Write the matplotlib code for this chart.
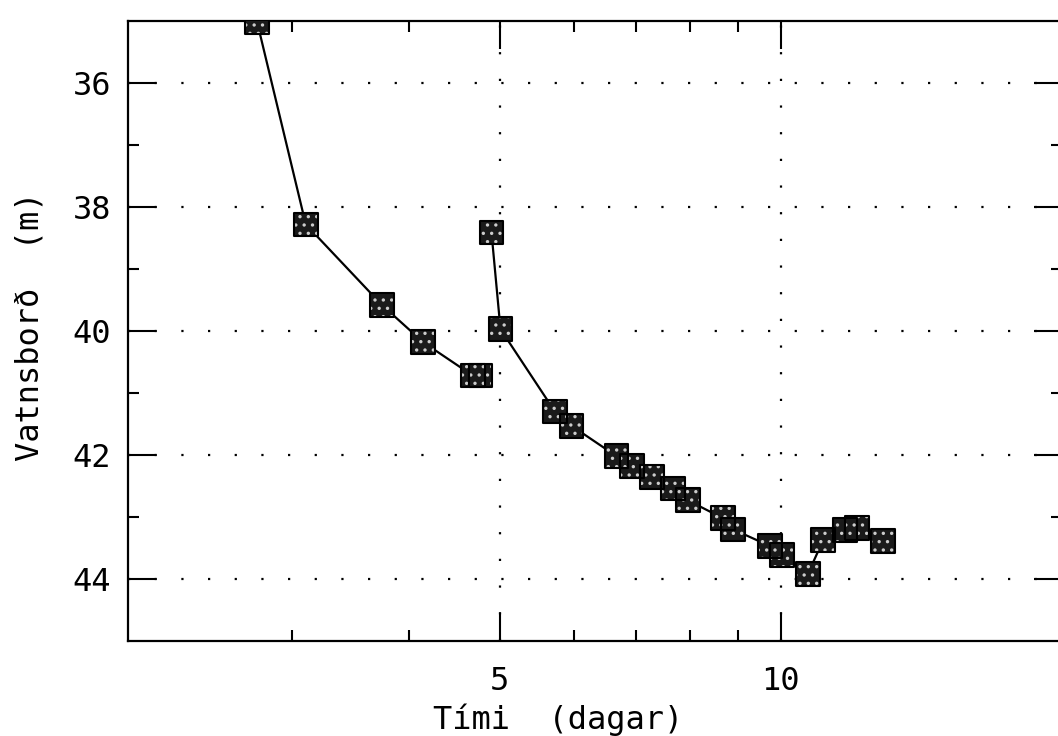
import numpy as np
import matplotlib
matplotlib.use("Agg")
import matplotlib.pyplot as plt
from matplotlib.ticker import FixedLocator, NullFormatter

# data (time in days, water level in m)
t1 = [2.75, 3.10, 3.74, 4.14, 4.68, 4.77]
h1 = [35.02, 38.28, 39.58, 40.18, 40.72, 40.72]

t2 = [4.90, 5.01, 5.73, 5.97, 6.67, 6.93, 7.28, 7.66, 7.95, 8.67, 8.89,
      9.74, 10.03, 10.69, 11.10, 11.72, 12.07, 12.87]
h2 = [38.41, 39.97, 41.30, 41.53, 42.02, 42.18, 42.35, 42.54, 42.73, 43.02, 43.20,
      43.47, 43.61, 43.92, 43.37, 43.21, 43.18, 43.39]

x_major = [5, 10]
x_major_labels = ['5', '10']
x_minor = [3, 4, 6, 7, 8, 9]
y_major = [36, 38, 40, 42, 44]
y_minor = [37, 39, 41, 43]

plt.rcParams['font.family'] = ['DejaVu Sans Mono']
plt.rcParams['hatch.linewidth'] = 1.2

fig = plt.figure(figsize=(10.58, 7.36), dpi=100)
W, H = 1058, 736
ax = fig.add_axes([128 / W, 1 - 641 / H, (1062 - 128) / W, (641 - 21) / H])

ms = 17
for t, h in [(t1, h1), (t2, h2)]:
    ax.plot(t, h, color='black', linewidth=1.6, zorder=2)
    # stippled squares: dark fill with white dot hatch, then black outline
    ax.scatter(t, h, marker='s', s=ms ** 2, facecolor='#1a1a1a', edgecolor='#cccccc',
               hatch='..', linewidths=0, zorder=3)
    ax.scatter(t, h, marker='s', s=ms ** 2, facecolor='none', edgecolor='black',
               linewidths=1.5, zorder=4)

ax.set_xscale('log')
ax.set_xlim(2, 20)
ax.set_ylim(45, 35)

ax.xaxis.set_major_locator(FixedLocator(x_major))
ax.set_xticklabels(x_major_labels)
ax.xaxis.set_minor_locator(FixedLocator(x_minor))
ax.xaxis.set_minor_formatter(NullFormatter())
ax.yaxis.set_major_locator(FixedLocator(y_major))
ax.yaxis.set_minor_locator(FixedLocator(y_minor))

ax.tick_params(which='both', direction='in', top=True, right=True,
               labelsize=23, width=1.5, color='black')
ax.tick_params(which='major', length=20)
ax.tick_params(which='minor', length=8)
ax.tick_params(axis='x', which='major', pad=18)
ax.tick_params(axis='y', which='major', pad=12)

for s in ax.spines.values():
    s.set_linewidth(1.6)

ax.grid(True, which='major', color='black', linewidth=1.6, linestyle=(0, (1, 11)))

fig.text(558 / W, 1 - 720 / H, 'Tími  (dagar)', ha='center', va='center', fontsize=23)
fig.text(30 / W, 1 - 326 / H, 'Vatnsborð  (m)', ha='center', va='center',
         rotation=90, fontsize=23)

fig.savefig('out.png', dpi=100)
